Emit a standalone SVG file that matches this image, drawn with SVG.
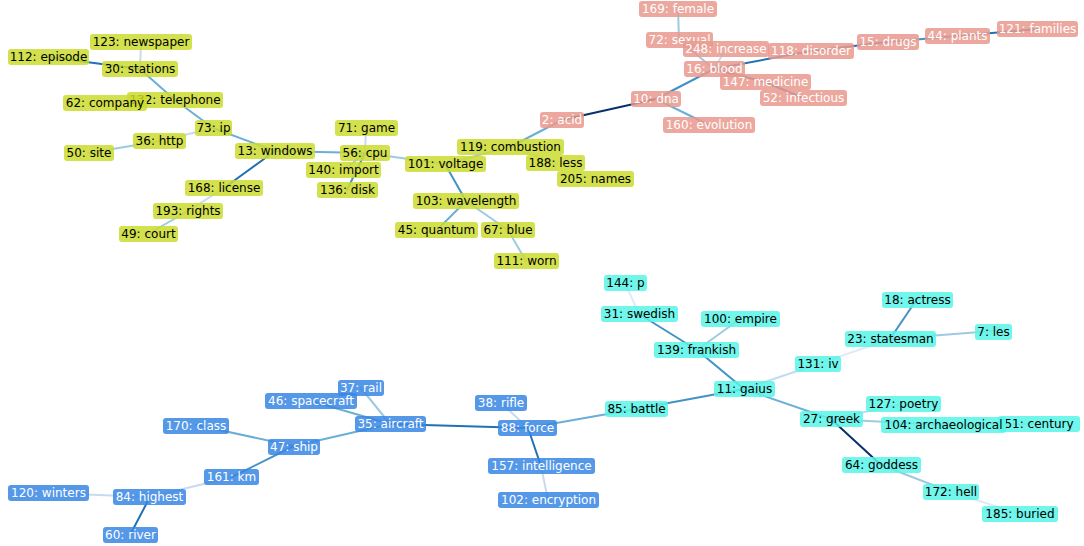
<svg xmlns="http://www.w3.org/2000/svg" width="1084" height="546" viewBox="0 0 1084 546">
<style>
text{font-family:"DejaVu Sans",sans-serif;font-size:12px;text-anchor:middle}
.node rect{rx:3;ry:3;fill-opacity:0.85}
.y rect{fill:#cbdc2f}.y text{fill:#000}
.p rect{fill:#e9998d}.p text{fill:#fff}
.b rect{fill:#3786e4}.b text{fill:#fff}
.c rect{fill:#57f5e6}.c text{fill:#000}
#edges line{stroke-width:2;stroke-linecap:round}
.e1{stroke:#deebf7}.e2{stroke:#c6dbef}.e3{stroke:#9ecae1}.e4{stroke:#6baed6}.e5{stroke:#4292c6}.e6{stroke:#2171b5}.e7{stroke:#08306b}
</style>
<rect width="1084" height="546" fill="#fff"/>
<g id="edges">
<line class="e6" x1="48" y1="57" x2="140" y2="69"/>
<line class="e2" x1="141" y1="42" x2="140" y2="69"/>
<line class="e4" x1="140" y1="69" x2="175" y2="100"/>
<line class="e4" x1="175" y1="100" x2="213" y2="128"/>
<line class="e2" x1="213" y1="128" x2="160" y2="141"/>
<line class="e3" x1="160" y1="141" x2="89" y2="153"/>
<line class="e4" x1="213" y1="128" x2="275" y2="151"/>
<line class="e6" x1="275" y1="151" x2="224" y2="188"/>
<line class="e2" x1="224" y1="188" x2="188" y2="211"/>
<line class="e3" x1="188" y1="211" x2="148" y2="234"/>
<line class="e4" x1="275" y1="151" x2="365" y2="153"/>
<line class="e2" x1="366" y1="128" x2="365" y2="153"/>
<line class="e3" x1="365" y1="153" x2="344" y2="170"/>
<line class="e5" x1="365" y1="153" x2="347" y2="190"/>
<line class="e3" x1="365" y1="153" x2="445" y2="164"/>
<line class="e3" x1="445" y1="164" x2="510" y2="147"/>
<line class="e2" x1="510" y1="147" x2="556" y2="163"/>
<line class="e4" x1="510" y1="147" x2="562" y2="120"/>
<line class="e5" x1="445" y1="164" x2="466" y2="201"/>
<line class="e4" x1="466" y1="201" x2="437" y2="230"/>
<line class="e3" x1="466" y1="201" x2="508" y2="230"/>
<line class="e3" x1="508" y1="230" x2="526" y2="261"/>
<line class="e3" x1="678" y1="9" x2="679" y2="40"/>
<line class="e3" x1="679" y1="40" x2="714" y2="69"/>
<line class="e2" x1="726" y1="49" x2="714" y2="69"/>
<line class="e6" x1="714" y1="69" x2="811" y2="51"/>
<line class="e6" x1="714" y1="69" x2="765" y2="82"/>
<line class="e6" x1="765" y1="82" x2="803" y2="98"/>
<line class="e5" x1="714" y1="69" x2="656" y2="99"/>
<line class="e7" x1="656" y1="99" x2="562" y2="120"/>
<line class="e4" x1="656" y1="99" x2="709" y2="125"/>
<line class="e6" x1="811" y1="51" x2="888" y2="42"/>
<line class="e5" x1="888" y1="42" x2="957" y2="36"/>
<line class="e6" x1="957" y1="36" x2="1038" y2="29"/>
<line class="e1" x1="625" y1="283" x2="639" y2="314"/>
<line class="e5" x1="639" y1="314" x2="697" y2="350"/>
<line class="e3" x1="740" y1="319" x2="697" y2="350"/>
<line class="e5" x1="697" y1="350" x2="744" y2="389"/>
<line class="e2" x1="744" y1="389" x2="818" y2="364"/>
<line class="e1" x1="818" y1="364" x2="890" y2="339"/>
<line class="e5" x1="890" y1="339" x2="917" y2="299"/>
<line class="e3" x1="890" y1="339" x2="993" y2="331"/>
<line class="e5" x1="744" y1="389" x2="636" y2="409"/>
<line class="e4" x1="636" y1="409" x2="528" y2="428"/>
<line class="e4" x1="744" y1="389" x2="831" y2="419"/>
<line class="e2" x1="831" y1="419" x2="903" y2="404"/>
<line class="e3" x1="831" y1="419" x2="943" y2="425"/>
<line class="e2" x1="943" y1="425" x2="1040" y2="424"/>
<line class="e7" x1="831" y1="419" x2="881" y2="465"/>
<line class="e3" x1="881" y1="465" x2="951" y2="492"/>
<line class="e1" x1="951" y1="492" x2="1020" y2="514"/>
<line class="e3" x1="361" y1="388" x2="390" y2="424"/>
<line class="e4" x1="311" y1="401" x2="390" y2="424"/>
<line class="e6" x1="390" y1="424" x2="528" y2="428"/>
<line class="e4" x1="390" y1="424" x2="294" y2="446"/>
<line class="e4" x1="196" y1="425" x2="294" y2="446"/>
<line class="e5" x1="294" y1="446" x2="232" y2="477"/>
<line class="e2" x1="232" y1="477" x2="150" y2="497"/>
<line class="e2" x1="48" y1="493" x2="150" y2="497"/>
<line class="e6" x1="150" y1="497" x2="130" y2="535"/>
<line class="e2" x1="501" y1="403" x2="528" y2="428"/>
<line class="e6" x1="528" y1="428" x2="541" y2="466"/>
<line class="e2" x1="541" y1="466" x2="548" y2="500"/>
</g>
<g id="n123" class="node y"><rect x="90" y="34" width="102" height="16"/><text x="141" y="46">123: newspaper</text></g>
<g id="n112" class="node y"><rect x="8" y="49" width="81" height="16"/><text x="48.5" y="61">112: episode</text></g>
<g id="n30" class="node y"><rect x="102" y="61" width="76" height="16"/><text x="140" y="73">30: stations</text></g>
<g id="n132" class="node y"><rect x="127" y="92" width="96" height="16"/><text x="175" y="104">132: telephone</text></g>
<g id="n62" class="node y"><rect x="63" y="95" width="84" height="16"/><text x="105" y="107">62: company</text></g>
<g id="n73" class="node y"><rect x="195" y="120" width="37" height="16"/><text x="213.5" y="132">73: ip</text></g>
<g id="n36" class="node y"><rect x="133" y="133" width="53" height="16"/><text x="159.5" y="145">36: http</text></g>
<g id="n50" class="node y"><rect x="64" y="145" width="50" height="16"/><text x="89" y="157">50: site</text></g>
<g id="n13" class="node y"><rect x="235" y="143" width="80" height="16"/><text x="275" y="155">13: windows</text></g>
<g id="n168" class="node y"><rect x="185" y="180" width="78" height="16"/><text x="224" y="192">168: license</text></g>
<g id="n193" class="node y"><rect x="153" y="203" width="70" height="16"/><text x="188" y="215">193: rights</text></g>
<g id="n49" class="node y"><rect x="119" y="226" width="59" height="16"/><text x="148.5" y="238">49: court</text></g>
<g id="n71" class="node y"><rect x="335" y="120" width="63" height="16"/><text x="366.5" y="132">71: game</text></g>
<g id="n56" class="node y"><rect x="340" y="145" width="50" height="16"/><text x="365" y="157">56: cpu</text></g>
<g id="n140" class="node y"><rect x="306" y="162" width="75" height="16"/><text x="343.5" y="174">140: import</text></g>
<g id="n136" class="node y"><rect x="317" y="182" width="61" height="16"/><text x="347.5" y="194">136: disk</text></g>
<g id="n101" class="node y"><rect x="405" y="156" width="81" height="16"/><text x="445.5" y="168">101: voltage</text></g>
<g id="n119" class="node y"><rect x="457" y="139" width="107" height="16"/><text x="510.5" y="151">119: combustion</text></g>
<g id="n188" class="node y"><rect x="526" y="155" width="59" height="16"/><text x="555.5" y="167">188: less</text></g>
<g id="n205" class="node y"><rect x="557" y="171" width="77" height="16"/><text x="595.5" y="183">205: names</text></g>
<g id="n103" class="node y"><rect x="413" y="193" width="106" height="16"/><text x="466" y="205">103: wavelength</text></g>
<g id="n45" class="node y"><rect x="395" y="222" width="83" height="16"/><text x="436.5" y="234">45: quantum</text></g>
<g id="n67" class="node y"><rect x="481" y="222" width="54" height="16"/><text x="508" y="234">67: blue</text></g>
<g id="n111" class="node y"><rect x="494" y="253" width="65" height="16"/><text x="526.5" y="265">111: worn</text></g>
<g id="n169" class="node p"><rect x="639" y="1" width="78" height="16"/><text x="678" y="13">169: female</text></g>
<g id="n72" class="node p"><rect x="646" y="32" width="67" height="16"/><text x="679.5" y="44">72: sexual</text></g>
<g id="n248" class="node p"><rect x="683" y="41" width="86" height="16"/><text x="726" y="53">248: increase</text></g>
<g id="n118" class="node p"><rect x="768" y="43" width="86" height="16"/><text x="811" y="55">118: disorder</text></g>
<g id="n16" class="node p"><rect x="684" y="61" width="61" height="16"/><text x="714.5" y="73">16: blood</text></g>
<g id="n147" class="node p"><rect x="720" y="74" width="91" height="16"/><text x="765.5" y="86">147: medicine</text></g>
<g id="n52" class="node p"><rect x="760" y="90" width="87" height="16"/><text x="803.5" y="102">52: infectious</text></g>
<g id="n10" class="node p"><rect x="631" y="91" width="50" height="16"/><text x="656" y="103">10: dna</text></g>
<g id="n2" class="node p"><rect x="540" y="112" width="44" height="16"/><text x="562" y="124">2: acid</text></g>
<g id="n160" class="node p"><rect x="663" y="117" width="92" height="16"/><text x="709" y="129">160: evolution</text></g>
<g id="n15" class="node p"><rect x="857" y="34" width="62" height="16"/><text x="888" y="46">15: drugs</text></g>
<g id="n44" class="node p"><rect x="925" y="28" width="65" height="16"/><text x="957.5" y="40">44: plants</text></g>
<g id="n121" class="node p"><rect x="997" y="21" width="81" height="16"/><text x="1037.5" y="33">121: families</text></g>
<g id="n144" class="node c"><rect x="604" y="275" width="43" height="16"/><text x="625.5" y="287">144: p</text></g>
<g id="n31" class="node c"><rect x="601" y="306" width="77" height="16"/><text x="639.5" y="318">31: swedish</text></g>
<g id="n100" class="node c"><rect x="701" y="311" width="79" height="16"/><text x="740.5" y="323">100: empire</text></g>
<g id="n139" class="node c"><rect x="654" y="342" width="85" height="16"/><text x="696.5" y="354">139: frankish</text></g>
<g id="n18" class="node c"><rect x="882" y="292" width="71" height="16"/><text x="917.5" y="304">18: actress</text></g>
<g id="n23" class="node c"><rect x="845" y="331" width="91" height="16"/><text x="890.5" y="343">23: statesman</text></g>
<g id="n7" class="node c"><rect x="975" y="324" width="37" height="16"/><text x="993.5" y="336">7: les</text></g>
<g id="n131" class="node c"><rect x="795" y="356" width="46" height="16"/><text x="818" y="368">131: iv</text></g>
<g id="n11" class="node c"><rect x="714" y="381" width="61" height="16"/><text x="744.5" y="393">11: gaius</text></g>
<g id="n85" class="node c"><rect x="605" y="401" width="63" height="16"/><text x="636.5" y="413">85: battle</text></g>
<g id="n27" class="node c"><rect x="800" y="411" width="63" height="16"/><text x="831.5" y="423">27: greek</text></g>
<g id="n127" class="node c"><rect x="866" y="396" width="75" height="16"/><text x="903.5" y="408">127: poetry</text></g>
<g id="n51" class="node c"><rect x="998" y="416" width="82" height="16"/><text x="1039" y="428">51: century</text></g>
<g id="n104" class="node c"><rect x="881" y="417" width="125" height="16"/><text x="943.5" y="429">104: archaeological</text></g>
<g id="n64" class="node c"><rect x="842" y="457" width="79" height="16"/><text x="881.5" y="469">64: goddess</text></g>
<g id="n172" class="node c"><rect x="923" y="484" width="56" height="16"/><text x="951" y="496">172: hell</text></g>
<g id="n185" class="node c"><rect x="982" y="506" width="76" height="16"/><text x="1020" y="518">185: buried</text></g>
<g id="n37" class="node b"><rect x="338" y="380" width="46" height="16"/><text x="361" y="392">37: rail</text></g>
<g id="n46" class="node b"><rect x="265" y="393" width="92" height="16"/><text x="311" y="405">46: spacecraft</text></g>
<g id="n35" class="node b"><rect x="355" y="416" width="71" height="16"/><text x="390.5" y="428">35: aircraft</text></g>
<g id="n170" class="node b"><rect x="163" y="418" width="66" height="16"/><text x="196" y="430">170: class</text></g>
<g id="n47" class="node b"><rect x="268" y="439" width="52" height="16"/><text x="294" y="451">47: ship</text></g>
<g id="n38" class="node b"><rect x="475" y="395" width="52" height="16"/><text x="501" y="407">38: rifle</text></g>
<g id="n88" class="node b"><rect x="498" y="420" width="59" height="16"/><text x="527.5" y="432">88: force</text></g>
<g id="n157" class="node b"><rect x="488" y="458" width="107" height="16"/><text x="541.5" y="470">157: intelligence</text></g>
<g id="n102" class="node b"><rect x="498" y="492" width="101" height="16"/><text x="548.5" y="504">102: encryption</text></g>
<g id="n161" class="node b"><rect x="204" y="469" width="55" height="16"/><text x="231.5" y="481">161: km</text></g>
<g id="n120" class="node b"><rect x="8" y="485" width="81" height="16"/><text x="48.5" y="497">120: winters</text></g>
<g id="n84" class="node b"><rect x="113" y="489" width="73" height="16"/><text x="149.5" y="501">84: highest</text></g>
<g id="n60" class="node b"><rect x="103" y="527" width="55" height="16"/><text x="130.5" y="539">60: river</text></g>
</svg>
